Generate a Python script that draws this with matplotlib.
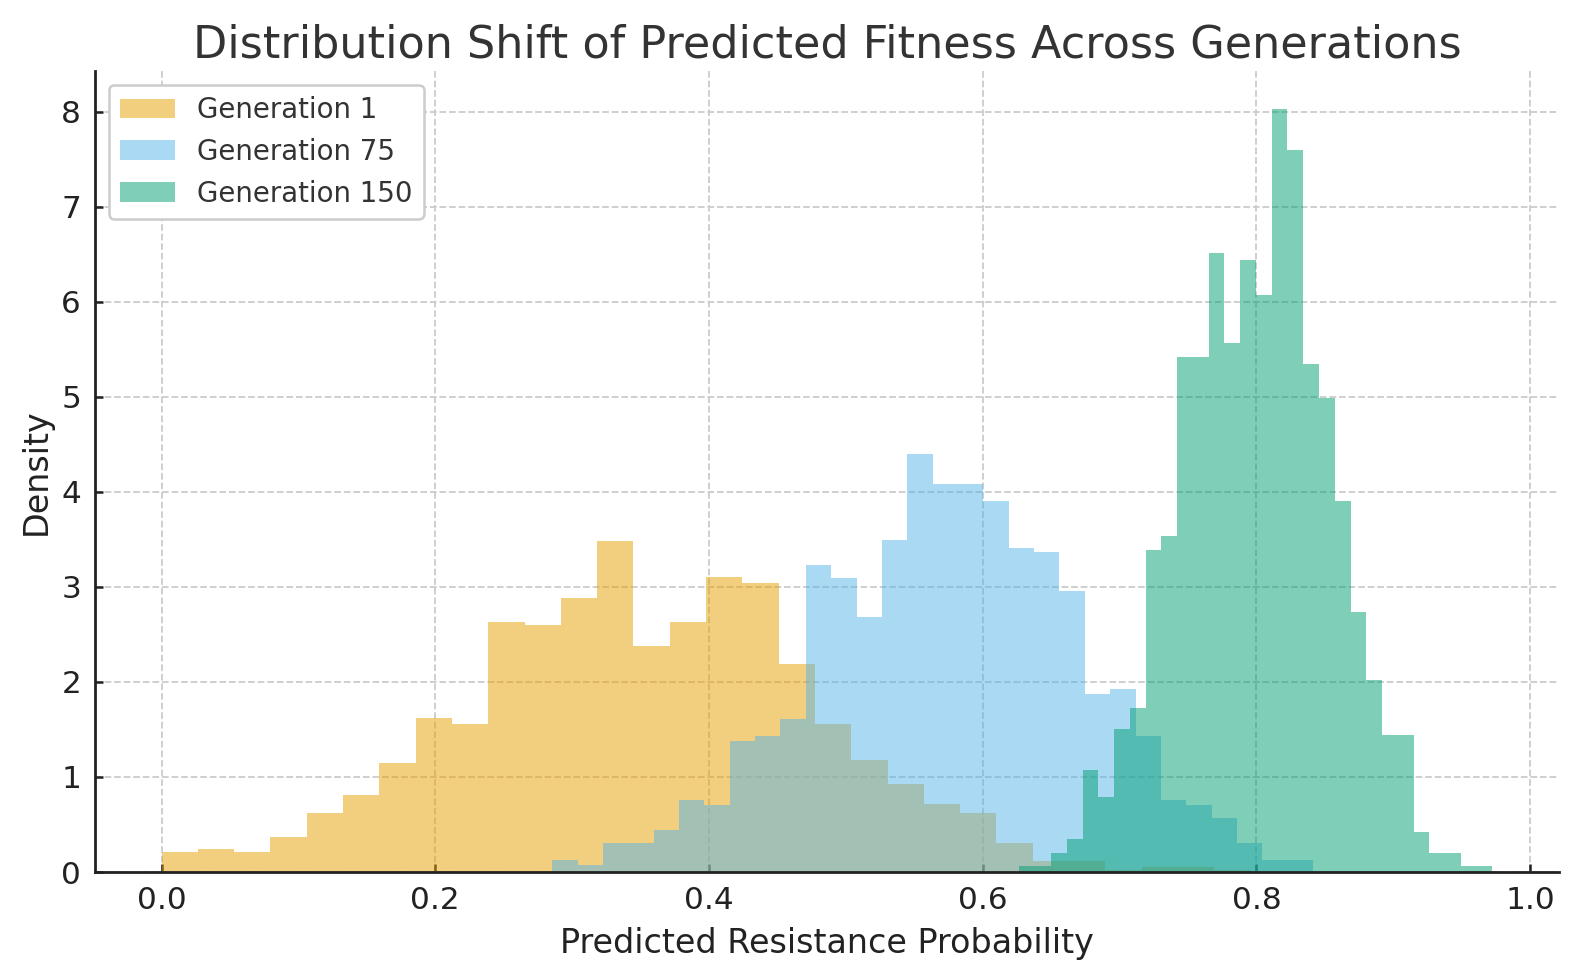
import matplotlib
matplotlib.use("Agg")
import matplotlib.pyplot as plt
import numpy as np

# bin range (lo, hi) and 30 density heights per generation
gen1_range = (0.0, 0.7957)
gen1_density = [0.21, 0.242, 0.21, 0.368, 0.621, 0.81, 1.147, 1.62, 1.558, 2.63,
                2.60, 2.884, 3.484, 2.379, 2.63, 3.105, 3.042, 2.19, 1.558, 1.179,
                0.926, 0.716, 0.621, 0.305, 0.116, 0.116, 0.02, 0.053, 0.053, 0.02]

gen75_range = (0.2854, 0.8414)
gen75_density = [0.126, 0.074, 0.305, 0.305, 0.442, 0.758, 0.705, 1.379, 1.432, 1.61,
                 3.232, 3.095, 2.684, 3.495, 4.40, 4.084, 4.084, 3.905, 3.41, 3.368,
                 2.958, 1.874, 1.926, 1.43, 0.758, 0.705, 0.568, 0.305, 0.126, 0.126]

gen150_range = (0.6268, 0.9724)
gen150_density = [0.063, 0.063, 0.2, 0.347, 1.074, 0.79, 1.505, 1.726, 3.39, 3.537,
                  5.42, 5.42, 6.516, 5.568, 6.442, 6.074, 8.03, 7.6, 5.347, 4.99,
                  3.905, 2.737, 2.021, 1.442, 1.442, 0.421, 0.2, 0.2, 0.063, 0.063]

labels = ['Generation 1', 'Generation 75', 'Generation 150']
colors = ['#E69F00', '#56B4E9', '#009E73']

fig = plt.figure(figsize=(15.77, 9.8), dpi=100)
ax = fig.add_axes([95/1577, 1-872/980, (1559-95)/1577, (872-71)/980])

series = [(gen1_range, gen1_density), (gen75_range, gen75_density), (gen150_range, gen150_density)]
for (rng, dens), lab, col in zip(series, labels, colors):
    edges = np.linspace(rng[0], rng[1], len(dens) + 1)
    ax.hist(edges[:-1], bins=edges, weights=dens, color=col, alpha=0.5, label=lab)

ax.set_title('Distribution Shift of Predicted Fitness Across Generations',
             fontsize=32, color='#333333', pad=10)
ax.set_xlabel('Predicted Resistance Probability', fontsize=24, color='#222222', labelpad=9)
ax.set_ylabel('Density', fontsize=24, color='#222222', labelpad=6)

ax.tick_params(direction='in', length=6, width=1.8, labelsize=22.4, colors='#222222', pad=10)
ax.grid(True, linestyle='--', color='#cccccc', linewidth=1.3)
ax.set_axisbelow(True)
for s in ['top', 'right']:
    ax.spines[s].set_visible(False)
for s in ['left', 'bottom']:
    ax.spines[s].set_linewidth(2.0)
    ax.spines[s].set_color('#222222')

leg = ax.legend(loc='upper left', fontsize=19.9, framealpha=1.0)
leg.get_frame().set_edgecolor('#cccccc')
leg.get_frame().set_linewidth(1.8)
for t in leg.get_texts():
    t.set_color('#333333')

fig.savefig('out.png', dpi=100)
